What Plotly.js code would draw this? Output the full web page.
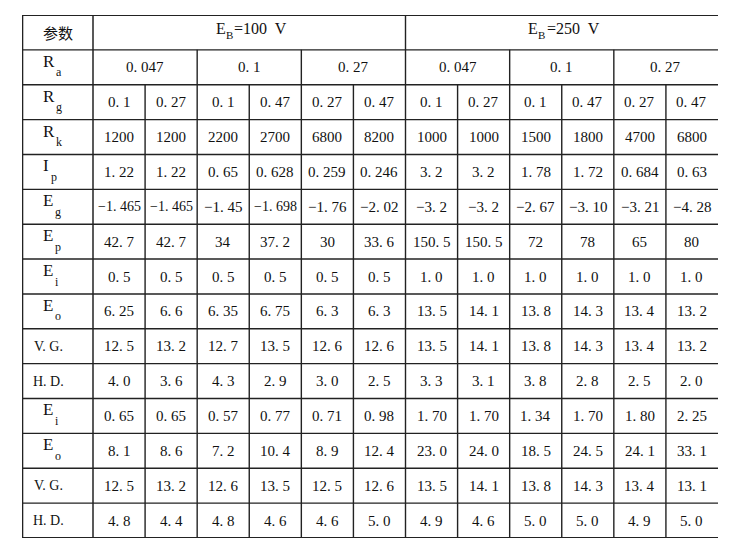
<!DOCTYPE html>
<html>
<head>
<meta charset="utf-8">
<script src="https://cdn.plot.ly/plotly-3.0.1.min.js"></script>
<style>
html,body{margin:0;padding:0;background:#fff;}
#chart{width:733px;height:546px;}
</style>
</head>
<body>
<div id="chart"></div>
<script>
// ---- table contents ----
const headerLabel = "参数";
// supply-voltage groups: [main symbol, subscript, rest]
const supplyGroups = [["E", "B", "=100  V"], ["E", "B", "=250  V"]];
const raLabel = ["R", "a"];
const raValues = ["0. 047", "0. 1", "0. 27", "0. 047", "0. 1", "0. 27"];
// row labels: [main symbol, subscript]
const rowLabels = [
  ["R", "g"], ["R", "k"], ["I", "p"], ["E", "g"], ["E", "p"],
  ["E", "i"], ["E", "o"], ["V. G.", ""], ["H. D.", ""],
  ["E", "i"], ["E", "o"], ["V. G.", ""], ["H. D.", ""]
];
const rg  = ["0. 1","0. 27","0. 1","0. 47","0. 27","0. 47","0. 1","0. 27","0. 1","0. 47","0. 27","0. 47"];
const rk  = ["1200","1200","2200","2700","6800","8200","1000","1000","1500","1800","4700","6800"];
const ip  = ["1. 22","1. 22","0. 65","0. 628","0. 259","0. 246","3. 2","3. 2","1. 78","1. 72","0. 684","0. 63"];
const eg  = ["−1. 465","−1. 465","−1. 45","−1. 698","−1. 76","−2. 02","−3. 2","−3. 2","−2. 67","−3. 10","−3. 21","−4. 28"];
const ep  = ["42. 7","42. 7","34","37. 2","30","33. 6","150. 5","150. 5","72","78","65","80"];
const ei1 = ["0. 5","0. 5","0. 5","0. 5","0. 5","0. 5","1. 0","1. 0","1. 0","1. 0","1. 0","1. 0"];
const eo1 = ["6. 25","6. 6","6. 35","6. 75","6. 3","6. 3","13. 5","14. 1","13. 8","14. 3","13. 4","13. 2"];
const vg1 = ["12. 5","13. 2","12. 7","13. 5","12. 6","12. 6","13. 5","14. 1","13. 8","14. 3","13. 4","13. 2"];
const hd1 = ["4. 0","3. 6","4. 3","2. 9","3. 0","2. 5","3. 3","3. 1","3. 8","2. 8","2. 5","2. 0"];
const ei2 = ["0. 65","0. 65","0. 57","0. 77","0. 71","0. 98","1. 70","1. 70","1. 34","1. 70","1. 80","2. 25"];
const eo2 = ["8. 1","8. 6","7. 2","10. 4","8. 9","12. 4","23. 0","24. 0","18. 5","24. 5","24. 1","33. 1"];
const vg2 = ["12. 5","13. 2","12. 6","13. 5","12. 5","12. 6","13. 5","14. 1","13. 8","14. 3","13. 4","13. 1"];
const hd2 = ["4. 8","4. 4","4. 8","4. 6","4. 6","5. 0","4. 9","4. 6","5. 0","5. 0","4. 9","5. 0"];
const bodyRows = [rg, rk, ip, eg, ep, ei1, eo1, vg1, hd1, ei2, eo2, vg2, hd2];

// ---- layout (table grid in cell units) ----
const nCols = rg.length;              // 12 data columns
const nRows = 2 + bodyRows.length;    // 15 rows
const PXCOL = 52.08;                  // pixels per data column
const LW = 71 / PXCOL;                // label column width in data-column units
const serif = "Liberation Serif";
const txt = "#111111";
const lineCol = "#222222";

const ctx = document.createElement("canvas").getContext("2d");
function textW(s, size) { ctx.font = size + "px '" + serif + "'"; return ctx.measureText(s).width; }

const annotations = [];
function ann(x, y, text, size, opts) {
  opts = opts || {};
  annotations.push({
    x: x, y: y, xref: "x", yref: "y", text: text, showarrow: false,
    xanchor: opts.xanchor || "center", yanchor: "middle",
    xshift: opts.xshift || 0, yshift: opts.yshift || 0,
    font: {family: opts.family || serif, size: size, color: txt}
  });
}
// label with subscript, main symbol left edge at fixed offset in the label column
function label(parts, rowY) {
  const main = parts[0], sub = parts[1];
  if (!sub) { ann(-LW / 2, rowY, main, 14, {xshift: -9}); return; }
  const MS = 17, SS = 12;
  const left = 19;               // px from table left edge
  const wMain = textW(main, MS);
  ann(-LW, rowY, main, MS, {xanchor: "left", xshift: left, yshift: 6});
  ann(-LW, rowY, sub, SS, {xanchor: "left", xshift: left + wMain + 2, yshift: -5});
}
// header row
ann(-LW / 2, 0.5, headerLabel, 15, {family: "Noto Sans CJK SC"});
supplyGroups.forEach((g, i) => {
  const MS = 16, SS = 11;
  const w0 = textW(g[0], MS), w1 = textW(g[1], SS) + 1, w2 = textW(g[2], MS);
  const start = -(w0 + w1 + w2) / 2;
  const cx = i * 6 + 3;
  ann(cx, 0.5, g[0], MS, {xanchor: "left", xshift: start, yshift: 4});
  ann(cx, 0.5, g[1], SS, {xanchor: "left", xshift: start + w0, yshift: -3});
  ann(cx, 0.5, g[2], MS, {xanchor: "left", xshift: start + w0 + w1, yshift: 4});
});
// Ra row
label(raLabel, 1.5);
raValues.forEach((v, i) => ann(i * 2 + 1, 1.5, v, 15));
// body rows
bodyRows.forEach((row, r) => {
  label(rowLabels[r], r + 2.5);
  row.forEach((v, c) => ann(c + 0.5, r + 2.5, v, v.length > 6 ? 14 : 15));
});

const shapes = [];
function seg(x0, y0, x1, y1, w) {
  shapes.push({type: "line", xref: "x", yref: "y", x0: x0, y0: y0, x1: x1, y1: y1,
    line: {color: lineCol, width: w || 1.4}});
}
// horizontal rules
for (let k = 0; k <= nRows; k++) {
  seg(-LW, k, nCols, k, (k === 0 || k === nRows) ? 2 : 1.4);
}
// vertical rules
seg(-LW, 0, -LW, nRows, 2.6);
seg(0, 0, 0, nRows, 1.5);
for (let j = 1; j < nCols; j++) {
  const start = (j === 6) ? 0 : (j % 2 === 0 ? 1 : 2);
  seg(j, start, j, nRows, 1.4);
}

const layout = {
  width: 733, height: 546,
  margin: {l: 22, r: 15, t: 15, b: 8, pad: 0},
  paper_bgcolor: "#ffffff", plot_bgcolor: "#ffffff",
  showlegend: false,
  xaxis: {range: [-LW, nCols], visible: false, fixedrange: true},
  yaxis: {range: [nRows, 0], visible: false, fixedrange: true},
  annotations: annotations,
  shapes: shapes
};
Plotly.newPlot("chart", [{x: [], y: [], type: "scatter", mode: "markers"}], layout,
  {staticPlot: true, displayModeBar: false});
</script>
</body>
</html>
